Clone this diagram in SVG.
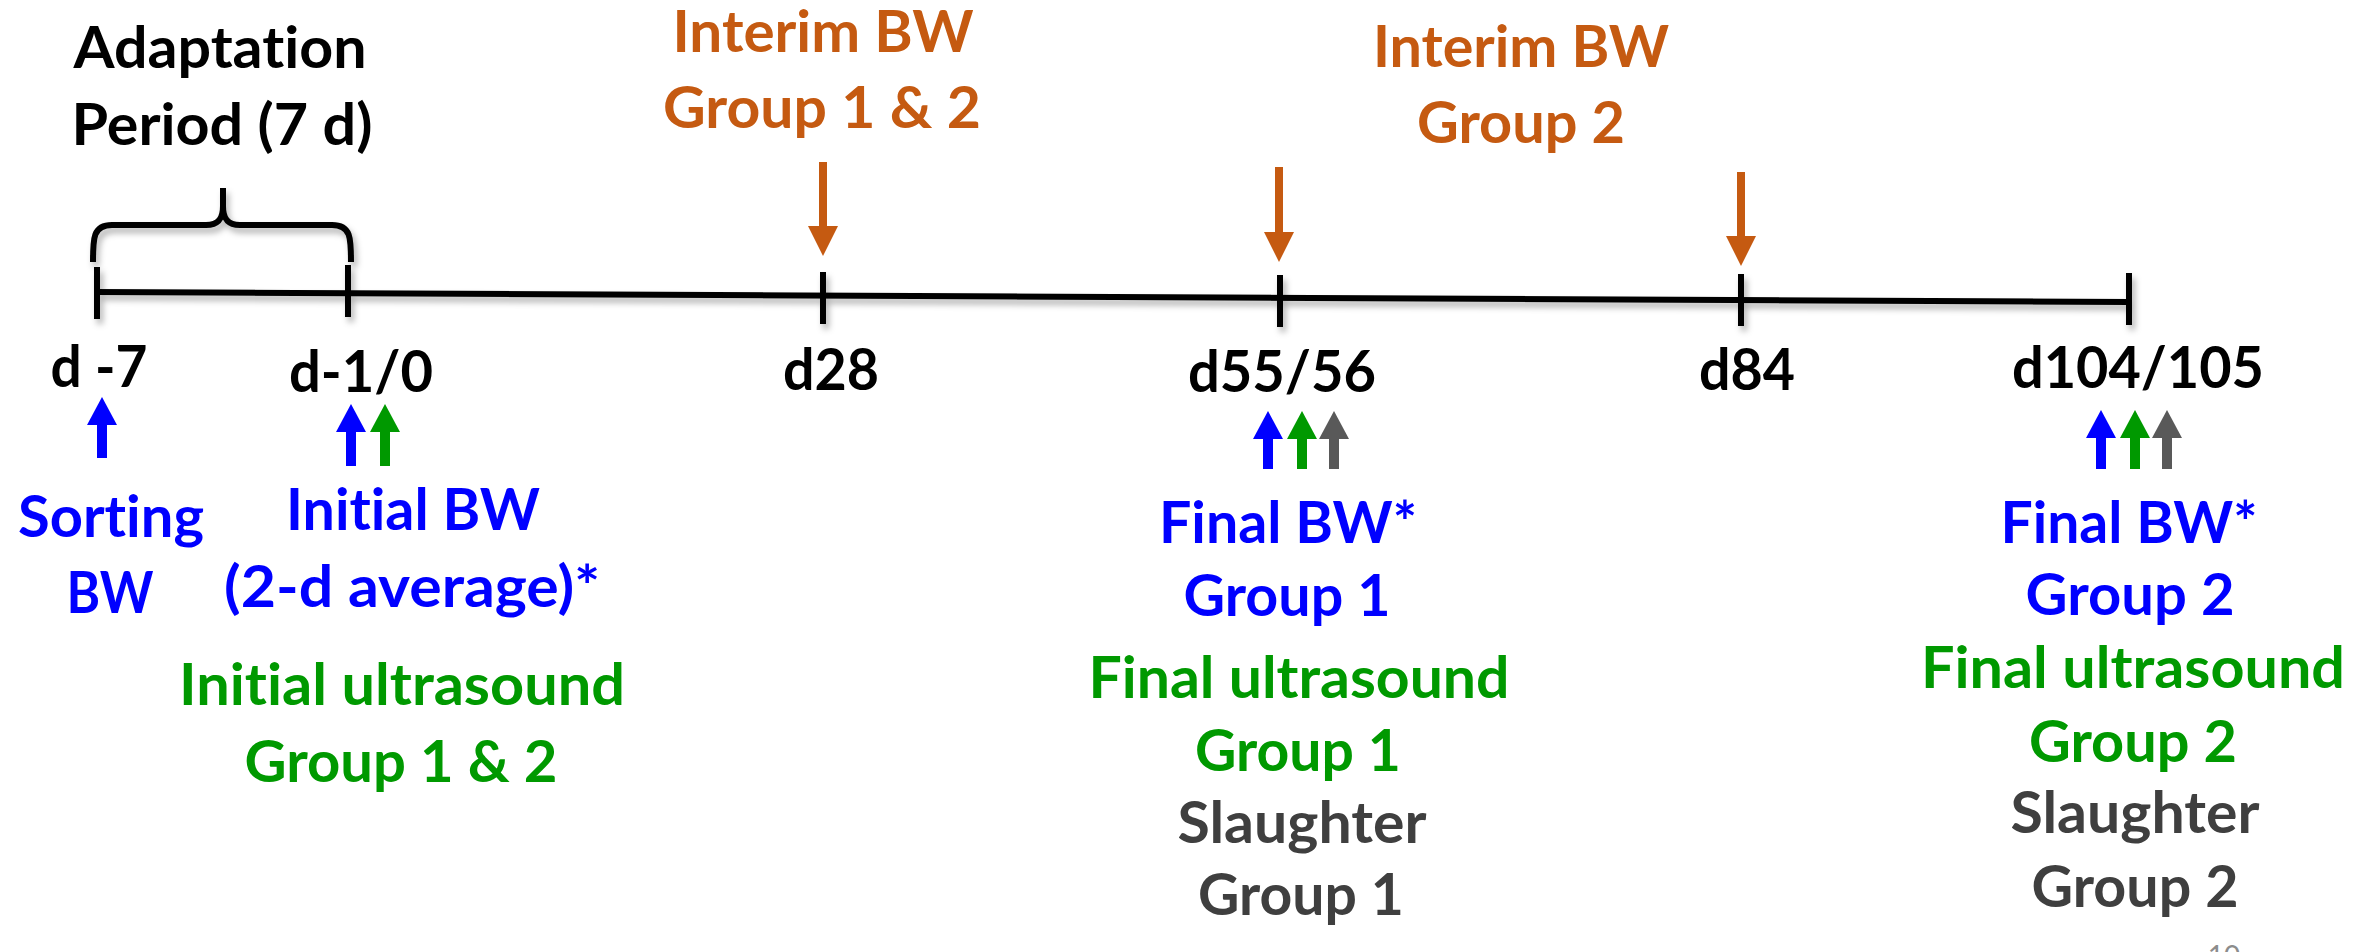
<svg xmlns="http://www.w3.org/2000/svg" width="2374" height="952" viewBox="0 0 2374 952">
<defs>
<style>
text{font-family:Lato,"Open Sans","Liberation Sans",sans-serif;font-weight:700;font-size:58px;text-anchor:middle;font-variant-ligatures:none;font-feature-settings:"liga" 0,"clig" 0}
.k{fill:#000}
.o{fill:#C55A11}
.b{fill:#0000FF}
.g{fill:#009900}
.s{fill:#3F3F3F}
.pg{fill:#8C8C8C;font-size:28px;font-weight:400}
.axis{stroke:#000;stroke-width:6;fill:none}
.ao{stroke:#C55A11;stroke-width:8;fill:none}
.ab{stroke:#0000FF;stroke-width:10;fill:none}
.ag{stroke:#009900;stroke-width:10;fill:none}
.ay{stroke:#595959;stroke-width:10;fill:none}
</style>
<filter id="sh" x="-5%" y="-50%" width="110%" height="200%">
<feDropShadow dx="3" dy="5" stdDeviation="3" flood-color="#000" flood-opacity="0.3"/>
</filter>
<marker id="mo" markerUnits="userSpaceOnUse" markerWidth="30" markerHeight="30" refX="1" refY="15" orient="auto"><path d="M0,0 L30,15 L0,30 Z" fill="#C55A11"/></marker>
<marker id="mb" markerUnits="userSpaceOnUse" markerWidth="28" markerHeight="30" refX="1" refY="15" orient="auto"><path d="M0,0 L28,15 L0,30 Z" fill="#0000FF"/></marker>
<marker id="mg" markerUnits="userSpaceOnUse" markerWidth="28" markerHeight="30" refX="1" refY="15" orient="auto"><path d="M0,0 L28,15 L0,30 Z" fill="#009900"/></marker>
<marker id="my" markerUnits="userSpaceOnUse" markerWidth="28" markerHeight="30" refX="1" refY="15" orient="auto"><path d="M0,0 L28,15 L0,30 Z" fill="#595959"/></marker>
</defs>
<rect width="2374" height="952" fill="#fff"/>

<g id="timeline" filter="url(#sh)">
<path class="axis" d="M95,292 L2130,302"/>
<path class="axis" d="M97,267 V319 M348,265 V317 M823,272 V324 M1280,275 V327 M1741,274 V326 M2129,273 V325"/>
<path class="axis" d="M93,262 C93,238 93,225 112,225 L206,225 C219,225 223,218 223,206 L223,188 M223,206 C223,218 227,225 240,225 L332,225 C351,225 351,238 351,262"/>
</g>

<g id="adaptation">
<text class="k" x="220" y="68" textLength="293" lengthAdjust="spacingAndGlyphs">Adaptation</text>
<text class="k" x="222" y="145" textLength="301" lengthAdjust="spacingAndGlyphs">Period (7 d)</text>
</g>

<g id="interim1">
<text class="o" x="823" y="52" textLength="301" lengthAdjust="spacingAndGlyphs">Interim BW</text>
<text class="o" x="822" y="128" textLength="318" lengthAdjust="spacingAndGlyphs">Group 1 &amp; 2</text>
</g>

<g id="interim2">
<text class="o" x="1521" y="67" textLength="296" lengthAdjust="spacingAndGlyphs">Interim BW</text>
<text class="o" x="1521" y="143" textLength="208" lengthAdjust="spacingAndGlyphs">Group 2</text>
</g>

<g id="day-labels">
<text class="k" x="99" y="387" textLength="97" lengthAdjust="spacingAndGlyphs">d -7</text>
<text class="k" x="361" y="392" textLength="144" lengthAdjust="spacingAndGlyphs">d-1/0</text>
<text class="k" x="831" y="390" textLength="96" lengthAdjust="spacingAndGlyphs">d28</text>
<text class="k" x="1282" y="392" textLength="188" lengthAdjust="spacingAndGlyphs">d55/56</text>
<text class="k" x="1747" y="390" textLength="96" lengthAdjust="spacingAndGlyphs">d84</text>
<text class="k" x="2138" y="388" textLength="252" lengthAdjust="spacingAndGlyphs">d104/105</text>
</g>

<g id="sorting">
<text class="b" x="111" y="537" textLength="186" lengthAdjust="spacingAndGlyphs">Sorting</text>
<text class="b" x="110" y="613" textLength="87" lengthAdjust="spacingAndGlyphs">BW</text>
</g>

<g id="initial">
<text class="b" x="413" y="530" textLength="254" lengthAdjust="spacingAndGlyphs">Initial BW</text>
<text class="b" x="412" y="607" textLength="376" lengthAdjust="spacingAndGlyphs">(2-d average)*</text>
<text class="g" x="402" y="705" textLength="446" lengthAdjust="spacingAndGlyphs">Initial ultrasound</text>
<text class="g" x="401" y="782" textLength="313" lengthAdjust="spacingAndGlyphs">Group 1 &amp; 2</text>
</g>

<g id="final1">
<text class="b" x="1288" y="543" textLength="258" lengthAdjust="spacingAndGlyphs">Final BW*</text>
<text class="b" x="1287" y="616" textLength="207" lengthAdjust="spacingAndGlyphs">Group 1</text>
<text class="g" x="1299" y="698" textLength="421" lengthAdjust="spacingAndGlyphs">Final ultrasound</text>
<text class="g" x="1298" y="771" textLength="206" lengthAdjust="spacingAndGlyphs">Group 1</text>
<text class="s" x="1302" y="843" textLength="249" lengthAdjust="spacingAndGlyphs">Slaughter</text>
<text class="s" x="1301" y="915" textLength="206" lengthAdjust="spacingAndGlyphs">Group 1</text>
</g>

<g id="final2">
<text class="b" x="2129" y="543" textLength="257" lengthAdjust="spacingAndGlyphs">Final BW*</text>
<text class="b" x="2130" y="615" textLength="209" lengthAdjust="spacingAndGlyphs">Group 2</text>
<text class="g" x="2133" y="688" textLength="424" lengthAdjust="spacingAndGlyphs">Final ultrasound</text>
<text class="g" x="2133" y="762" textLength="208" lengthAdjust="spacingAndGlyphs">Group 2</text>
<text class="s" x="2135" y="833" textLength="249" lengthAdjust="spacingAndGlyphs">Slaughter</text>
<text class="s" x="2135" y="907" textLength="207" lengthAdjust="spacingAndGlyphs">Group 2</text>
</g>

<g id="page-number">
<text class="pg" x="2224" y="966">10</text>
</g>

<g id="connectors">
<line class="ao" x1="823" y1="162" x2="823" y2="227" marker-end="url(#mo)"/>
<line class="ao" x1="1279" y1="167" x2="1279" y2="233" marker-end="url(#mo)"/>
<line class="ao" x1="1741" y1="172" x2="1741" y2="237" marker-end="url(#mo)"/>

<line class="ab" x1="102" y1="458" x2="102" y2="424" marker-end="url(#mb)"/>
<line class="ab" x1="351" y1="466" x2="351" y2="431" marker-end="url(#mb)"/>
<line class="ag" x1="385" y1="466" x2="385" y2="431" marker-end="url(#mg)"/>

<line class="ab" x1="1268" y1="469" x2="1268" y2="438" marker-end="url(#mb)"/>
<line class="ag" x1="1302" y1="469" x2="1302" y2="438" marker-end="url(#mg)"/>
<line class="ay" x1="1334" y1="469" x2="1334" y2="438" marker-end="url(#my)"/>

<line class="ab" x1="2101" y1="469" x2="2101" y2="437" marker-end="url(#mb)"/>
<line class="ag" x1="2135" y1="469" x2="2135" y2="437" marker-end="url(#mg)"/>
<line class="ay" x1="2167" y1="469" x2="2167" y2="437" marker-end="url(#my)"/>
</g>
</svg>
